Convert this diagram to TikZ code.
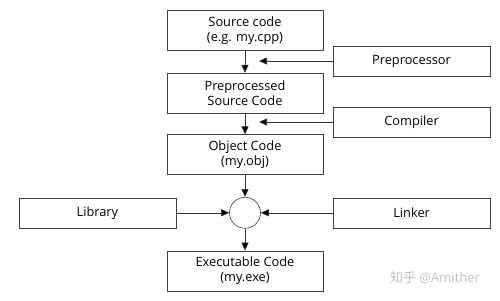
\documentclass[tikz,border=0pt]{standalone}
\usepackage{fontspec}
\setmainfont{Open Sans}
\newfontfamily\cjkfont{Noto Sans CJK SC}
\usepackage{xcolor}
\usetikzlibrary{arrows.meta,positioning}

\begin{document}
\begin{tikzpicture}[x=1pt, y=1pt, font=\fontsize{12.8}{15}\selectfont,
    >={Triangle[length=8pt, width=7pt, fill=black]},
    node distance=22pt and 10pt,
    link/.style={->, draw=black!80, line width=0.6pt},
    codebox/.style={draw=black!75, line width=0.6pt, align=center, minimum height=40pt, minimum width=156pt, inner sep=2pt},
    toolbox/.style={draw=black!75, line width=0.6pt, align=center, minimum height=30pt, minimum width=157pt, inner sep=2pt},
    junction/.style={draw=black!75, line width=0.6pt, circle, minimum size=31pt, inner sep=0pt}]

  \useasboundingbox (0,0) rectangle (500,300);

  % --- Main chain: source -> executable ---
  \node[codebox] (src) at (245,269.5) {Source code\\(e.g. my.cpp)};
  \node[codebox, below=of src] (pre) {Preprocessed\\Source Code};
  \node[codebox, below=21pt of pre] (obj) {Object Code\\(my.obj)};
  \node[junction, below=of obj] (join) {};
  \node[codebox, below=of join] (exe) {Executable Code\\(my.exe)};

  \draw[link] (src) -- (pre);
  \draw[link] (pre) -- (obj);
  \draw[link] (obj) -- (join);
  \draw[link] (join) -- (exe);

  % --- Tools feeding the chain ---
  \node[toolbox] (prep) at (411.5,239) {Preprocessor};
  \node[toolbox] (comp) at (411.5,178) {Compiler};
  \node[toolbox, right=72pt of join] (lnk) {Linker};
  \node[toolbox, left=53pt of join] (lib) {Library};

  \draw[link] (prep.west) -- ([xshift=14pt]prep.west -| src.south);
  \draw[link] (comp.west) -- ([xshift=14pt]comp.west -| src.south);
  \draw[link] (lib) -- (join);
  \draw[link] (lnk) -- (join);

  % --- Watermark ---
  \node[text=black!25, font=\fontsize{13}{15}\selectfont] (wm) at (435,22) {{\cjkfont 知乎} @Amither};
\end{tikzpicture}
\end{document}
